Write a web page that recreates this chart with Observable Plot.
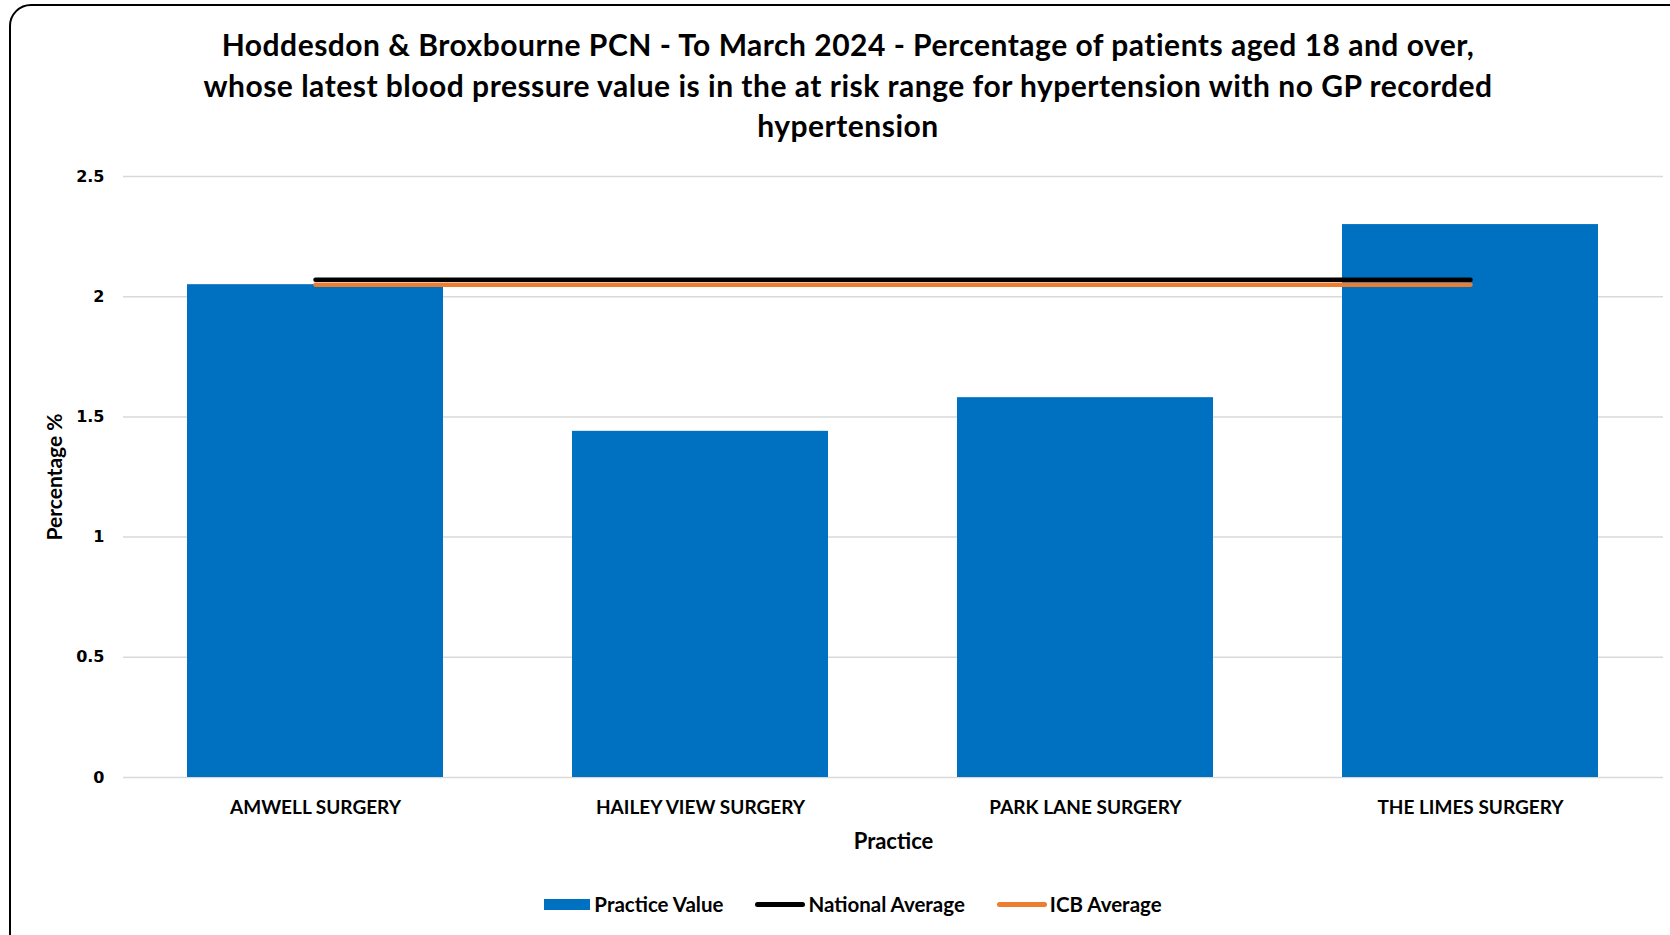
<!DOCTYPE html>
<html><head><meta charset="utf-8">
<script src="https://cdn.jsdelivr.net/npm/d3@7"></script>
<script src="https://cdn.jsdelivr.net/npm/@observablehq/plot@0.6"></script>
<style>
body{margin:0;background:#fff;}
#wrap{position:relative;width:1670px;height:935px;overflow:hidden;font-family:Lato,sans-serif;background:#fff;}
#border{position:absolute;left:9px;top:4px;width:1720px;height:1000px;border:2px solid #000;border-radius:22px;box-sizing:border-box;}
#title{position:absolute;left:0;top:24px;width:1696px;text-align:center;font-weight:bold;font-size:30px;letter-spacing:0.5px;line-height:40.5px;color:#000;}
#chart{position:absolute;left:0;top:150px;}
#legend{position:absolute;top:892px;left:0;width:1706px;display:flex;justify-content:center;align-items:center;font-weight:bold;font-size:20.5px;color:#000;}
.item{display:flex;align-items:center;margin:0 16px;}
.sw{width:46px;height:11px;margin-right:4px;}
.ln{width:50px;height:5px;border-radius:3px;margin-right:3px;}
</style></head>
<body>
<div id="wrap">
<div id="border"></div>
<div id="title">Hoddesdon &amp; Broxbourne PCN - To March 2024 - Percentage of patients aged 18 and over,<br>whose latest blood pressure value is in the at risk range for hypertension with no GP recorded<br>hypertension</div>
<div id="chart"></div>
<div id="legend"></div>
</div>
<script>
const practices = ["AMWELL SURGERY", "HAILEY VIEW SURGERY", "PARK LANE SURGERY", "THE LIMES SURGERY"];
const practiceValues = [2.05, 1.44, 1.58, 2.30];
const nationalAverage = [2.07, 2.07, 2.07, 2.07];
const icbAverage = [2.05, 2.05, 2.05, 2.05];
const yTicks = [0, 0.5, 1, 1.5, 2, 2.5];
const seriesNames = ["Practice Value", "National Average", "ICB Average"];
const seriesColors = ["#0070C0", "#000000", "#ED7D31"];

const rows = practices.map((p, i) => ({practice: p, value: practiceValues[i], national: nationalAverage[i], icb: icbAverage[i]}));

const chart = Plot.plot({
  width: 1670,
  height: 720,
  marginTop: 26,
  marginBottom: 93,
  marginLeft: 123,
  marginRight: 7,
  style: {fontFamily: "Lato, sans-serif", background: "transparent"},
  x: {domain: practices, paddingInner: 0.334, paddingOuter: 0.167, label: null},
  y: {domain: [0, 2.5], ticks: yTicks, label: null},
  marks: [
    Plot.gridY(yTicks, {stroke: "#D9D9D9", strokeOpacity: 1, strokeWidth: 1.5}),
    Plot.barY(rows, {x: "practice", y: "value", fill: seriesColors[0]}),
    Plot.lineY(rows, {x: "practice", y: "national", stroke: seriesColors[1], strokeWidth: 4.5, strokeLinecap: "round"}),
    Plot.lineY(rows, {x: "practice", y: "icb", stroke: seriesColors[2], strokeWidth: 4.5, strokeLinecap: "round"}),
    Plot.axisY(yTicks, {tickSize: 0, tickPadding: 19, fontSize: 16, fontWeight: "bold", fontFamily: "DejaVu Sans", tickFormat: d => String(d), label: null}),
    Plot.axisX({tickSize: 0, tickPadding: 23, fontSize: 19, fontWeight: "bold", label: null}),
    Plot.text(["Percentage %"], {frameAnchor: "left", textAnchor: "middle", dx: -68, rotate: -90, fontSize: 21, fontWeight: "bold", fill: "#000"}),
    Plot.text(["Practice"], {frameAnchor: "bottom", dy: 71, fontSize: 22, fontWeight: "bold", fill: "#000"})
  ]
});
document.getElementById("chart").appendChild(chart);

const legend = document.getElementById("legend");
seriesNames.forEach((name, i) => {
  const item = document.createElement("div");
  item.className = "item";
  const mk = document.createElement("div");
  mk.className = i === 0 ? "sw" : "ln";
  mk.style.background = seriesColors[i];
  item.appendChild(mk);
  const t = document.createElement("span");
  t.textContent = name;
  item.appendChild(t);
  legend.appendChild(item);
});
</script>
</body></html>
